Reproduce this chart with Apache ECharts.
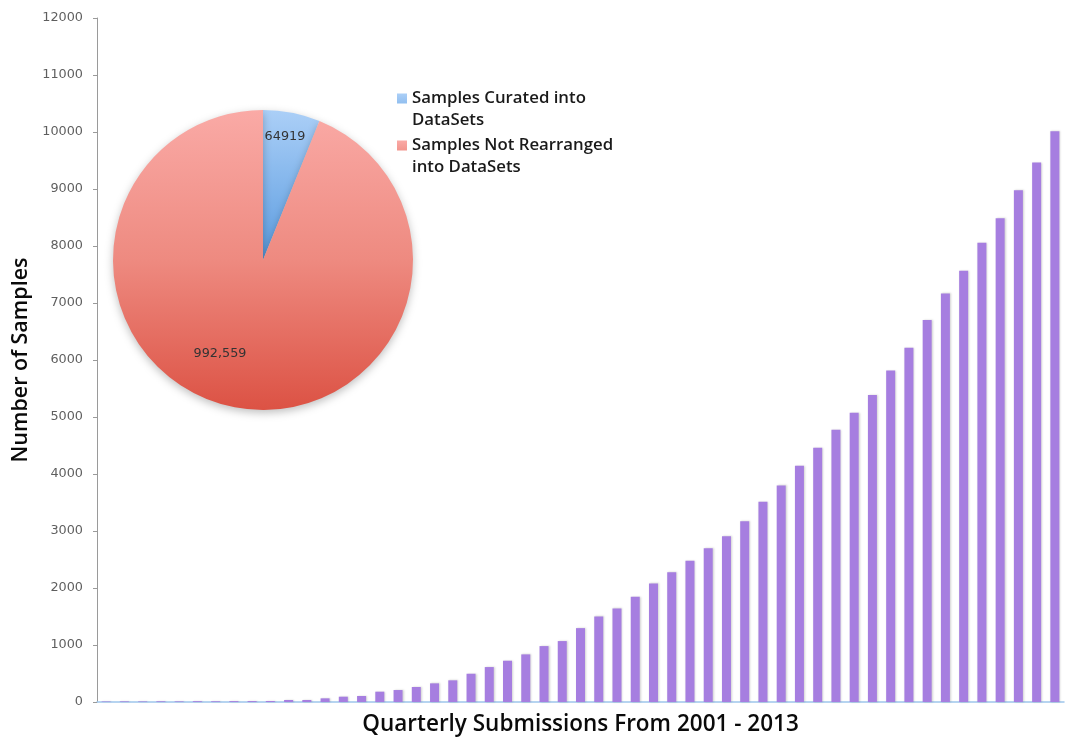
<!DOCTYPE html>
<html>
<head>
<meta charset="utf-8">
<script src="https://cdn.jsdelivr.net/npm/echarts@6/dist/echarts.min.js"></script>
<style>
html,body{margin:0;padding:0;background:#fff;}
#chart{width:1068px;height:740px;}
</style>
</head>
<body>
<div id="chart"></div>
<script>
// Quarterly submissions (53 quarters)
const years = [2001,2002,2003,2004,2005,2006,2007,2008,2009,2010,2011,2012,2013,2014];
const quarters = ['Q1','Q2','Q3','Q4'];
const categories = [];
years.forEach(y => quarters.forEach(q => { if (categories.length < 53) categories.push(y + ' ' + q); }));

const submissions = [8,10,9,12,10,14,12,15,16,18,
  35,35,64,93,105,181,210,263,327,380,
  496,613,724,835,981,1069,1296,1501,1641,1845,
  2079,2277,2476,2697,2907,3170,3515,3800,4145,4460,
  4776,5074,5385,5814,6217,6702,7168,7566,8056,8489,
  8979,9463,10012];

const pieNames = ['Samples Curated into DataSets', 'Samples Not Rearranged into DataSets'];
const pieValues = [64919, 992559];
const legendLabels = ['Samples Curated into\nDataSets', 'Samples Not Rearranged\ninto DataSets'];
const pieLabels = ['64919', '992,559'];

const yTicks = [0,1000,2000,3000,4000,5000,6000,7000,8000,9000,10000,11000,12000];

const blueGrad = {type:'linear',x:0,y:0,x2:0,y2:1,colorStops:[{offset:0,color:'#abcff7'},{offset:1,color:'#5b9ce0'}]};
const redGrad = {type:'linear',x:0,y:0,x2:0,y2:1,colorStops:[{offset:0,color:'#faaaa6'},{offset:0.5,color:'#ee8a80'},{offset:1,color:'#dc5244'}]};
const legendIconPath = 'path://M0,0L10,0L10,10L0,10Z M0,31L0.01,31L0.01,31.01L0,31.01Z';

const chart = echarts.init(document.getElementById('chart'), null, {renderer:'canvas'});
chart.setOption({
  backgroundColor:'#ffffff',
  animation:false,
  grid:{left:97,right:4,top:18,bottom:38,containLabel:false,outerBoundsMode:'none'},
  legend:{
    orient:'vertical',
    left:397, top:87, padding:0,
    itemWidth:10, itemHeight:32, itemGap:3,
    icon:legendIconPath,
    itemStyle:{borderWidth:0},
    data:pieNames,
    formatter:function(name){ return legendLabels[pieNames.indexOf(name)]; },
    textStyle:{fontFamily:'Open Sans',fontWeight:600,fontSize:16.8,color:'#1a1a1a',lineHeight:22}
  },
  xAxis:{
    type:'category',
    data:categories,
    name:'Quarterly Submissions From 2001 - 2013',
    nameLocation:'middle',
    nameGap:11,
    nameTextStyle:{fontFamily:'Open Sans',fontWeight:600,fontSize:22.5,color:'#0a0a0a'},
    axisLine:{lineStyle:{color:'#9ec6ec',width:1.5}},
    axisTick:{show:false},
    axisLabel:{show:false},
    splitLine:{show:false}
  },
  yAxis:{
    type:'value',
    min:0,max:12000,interval:1000,
    name:'Number of Samples',
    nameLocation:'middle',
    nameGap:58,
    nameRotate:90,
    nameTextStyle:{fontFamily:'Open Sans',fontWeight:600,fontSize:21.5,color:'#0a0a0a'},
    axisLine:{show:true,lineStyle:{color:'#9a9a9a',width:1}},
    axisTick:{show:true,length:4,lineStyle:{color:'#9a9a9a'}},
    axisLabel:{margin:14,fontFamily:'DejaVu Sans',fontSize:12.8,color:'#5e5e5e',
      formatter:function(v){ return yTicks.indexOf(v) >= 0 ? String(v) : ''; }},
    splitLine:{show:false}
  },
  series:[
    {
      type:'bar',
      data:submissions,
      barWidth:9,
      itemStyle:{color:'#a67ee0',shadowBlur:2,shadowColor:'rgba(0,0,0,0.18)',shadowOffsetX:1},
      z:2
    },
    {
      type:'pie',
      center:[263,260],
      radius:150,
      startAngle:90,
      clockwise:true,
      z:5,
      data:[
        {name:pieNames[0],value:pieValues[0],itemStyle:{color:blueGrad}},
        {name:pieNames[1],value:pieValues[1],itemStyle:{color:redGrad}}
      ],
      itemStyle:{borderWidth:0,shadowBlur:8,shadowColor:'rgba(0,0,0,0.25)',shadowOffsetY:3},
      label:{
        show:true,position:'inside',
        fontFamily:'DejaVu Sans',fontSize:12.8,color:'#333',
        formatter:function(p){ return pieLabels[p.dataIndex]; }
      },
      labelLine:{show:false},
      labelLayout:function(p){
        return p.dataIndex === 0 ? {dx:7,dy:-47} : {dx:-28,dy:17};
      },
      emphasis:{disabled:true}
    }
  ]
});
</script>
</body>
</html>
